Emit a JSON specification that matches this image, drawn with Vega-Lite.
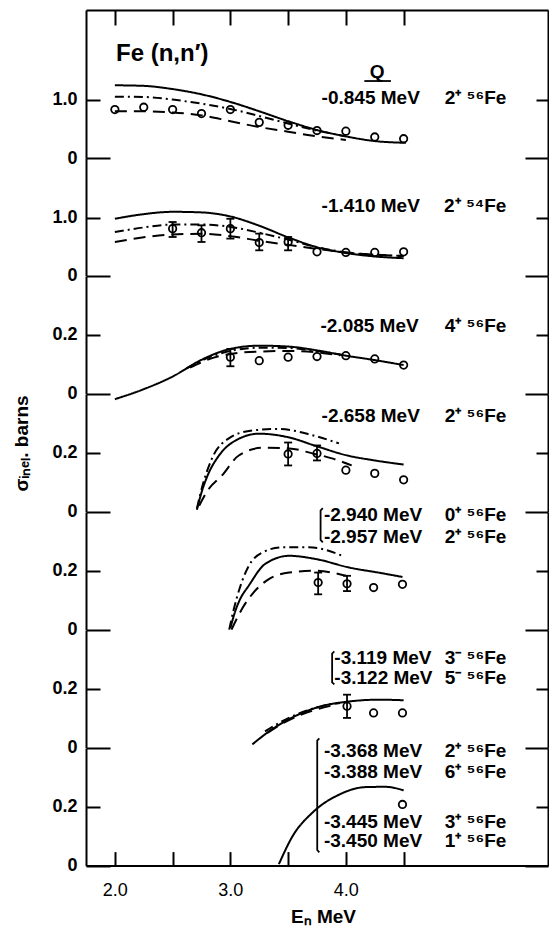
{
  "$schema": "https://vega.github.io/schema/vega-lite/v6.json",
  "padding": {"left": 12, "top": 9, "right": 0, "bottom": 0},
  "bounds": "flush",
  "spacing": 0,
  "config": {
    "view": {"stroke": null},
    "font": "Liberation Sans",
    "axis": {"domainColor": "#000", "domainWidth": 2, "tickColor": "#000", "tickWidth": 2, "labelColor": "#000", "labelFontSize": 18, "labelFontWeight": "bold", "grid": false, "titleColor": "#000", "titleFontSize": 18, "titleFontWeight": "bold"},
    "text": {"color": "#000", "font": "Liberation Sans", "fontSize": 19, "fontWeight": "bold"}
  },
  "datasets": {
    "curves": [
      {"panel":1,"model":"solid","E":2.0,"sigma":1.245},{"panel":1,"model":"solid","E":2.25,"sigma":1.235},{"panel":1,"model":"solid","E":2.5,"sigma":1.18},{"panel":1,"model":"solid","E":2.75,"sigma":1.09},{"panel":1,"model":"solid","E":3.0,"sigma":0.96},{"panel":1,"model":"solid","E":3.25,"sigma":0.8},{"panel":1,"model":"solid","E":3.5,"sigma":0.63},{"panel":1,"model":"solid","E":3.75,"sigma":0.48},{"panel":1,"model":"solid","E":4.0,"sigma":0.37},{"panel":1,"model":"solid","E":4.25,"sigma":0.29},{"panel":1,"model":"solid","E":4.52,"sigma":0.26},
      {"panel":1,"model":"dashdot","E":2.0,"sigma":1.05},{"panel":1,"model":"dashdot","E":2.25,"sigma":1.045},{"panel":1,"model":"dashdot","E":2.5,"sigma":1.0},{"panel":1,"model":"dashdot","E":2.75,"sigma":0.93},{"panel":1,"model":"dashdot","E":3.0,"sigma":0.84},{"panel":1,"model":"dashdot","E":3.25,"sigma":0.72},{"panel":1,"model":"dashdot","E":3.5,"sigma":0.59},{"panel":1,"model":"dashdot","E":3.75,"sigma":0.47},{"panel":1,"model":"dashdot","E":4.0,"sigma":0.37},
      {"panel":1,"model":"dashed","E":2.0,"sigma":0.8},{"panel":1,"model":"dashed","E":2.25,"sigma":0.8},{"panel":1,"model":"dashed","E":2.5,"sigma":0.78},{"panel":1,"model":"dashed","E":2.75,"sigma":0.73},{"panel":1,"model":"dashed","E":3.0,"sigma":0.63},{"panel":1,"model":"dashed","E":3.25,"sigma":0.53},{"panel":1,"model":"dashed","E":3.5,"sigma":0.45},{"panel":1,"model":"dashed","E":3.75,"sigma":0.37},{"panel":1,"model":"dashed","E":4.0,"sigma":0.31},
      {"panel":2,"model":"solid","E":2.0,"sigma":0.98},{"panel":2,"model":"solid","E":2.25,"sigma":1.06},{"panel":2,"model":"solid","E":2.5,"sigma":1.1},{"panel":2,"model":"solid","E":2.75,"sigma":1.09},{"panel":2,"model":"solid","E":3.0,"sigma":1.02},{"panel":2,"model":"solid","E":3.25,"sigma":0.86},{"panel":2,"model":"solid","E":3.5,"sigma":0.66},{"panel":2,"model":"solid","E":3.75,"sigma":0.49},{"panel":2,"model":"solid","E":4.0,"sigma":0.39},{"panel":2,"model":"solid","E":4.25,"sigma":0.33},{"panel":2,"model":"solid","E":4.5,"sigma":0.3},
      {"panel":2,"model":"dashdot","E":2.0,"sigma":0.75},{"panel":2,"model":"dashdot","E":2.25,"sigma":0.83},{"panel":2,"model":"dashdot","E":2.5,"sigma":0.88},{"panel":2,"model":"dashdot","E":2.75,"sigma":0.88},{"panel":2,"model":"dashdot","E":3.0,"sigma":0.84},{"panel":2,"model":"dashdot","E":3.25,"sigma":0.74},{"panel":2,"model":"dashdot","E":3.5,"sigma":0.62},{"panel":2,"model":"dashdot","E":3.75,"sigma":0.49},{"panel":2,"model":"dashdot","E":4.0,"sigma":0.4},{"panel":2,"model":"dashdot","E":4.25,"sigma":0.36},{"panel":2,"model":"dashdot","E":4.5,"sigma":0.34},
      {"panel":2,"model":"dashed","E":2.0,"sigma":0.58},{"panel":2,"model":"dashed","E":2.25,"sigma":0.66},{"panel":2,"model":"dashed","E":2.5,"sigma":0.71},{"panel":2,"model":"dashed","E":2.75,"sigma":0.72},{"panel":2,"model":"dashed","E":3.0,"sigma":0.68},{"panel":2,"model":"dashed","E":3.25,"sigma":0.6},{"panel":2,"model":"dashed","E":3.5,"sigma":0.53},{"panel":2,"model":"dashed","E":3.75,"sigma":0.46},{"panel":2,"model":"dashed","E":4.0,"sigma":0.4},{"panel":2,"model":"dashed","E":4.25,"sigma":0.36},{"panel":2,"model":"dashed","E":4.5,"sigma":0.34},
      {"panel":3,"model":"solid","E":2.0,"sigma":-0.019},{"panel":3,"model":"solid","E":2.25,"sigma":0.015},{"panel":3,"model":"solid","E":2.5,"sigma":0.058},{"panel":3,"model":"solid","E":2.75,"sigma":0.115},{"panel":3,"model":"solid","E":3.0,"sigma":0.152},{"panel":3,"model":"solid","E":3.25,"sigma":0.163},{"panel":3,"model":"solid","E":3.5,"sigma":0.16},{"panel":3,"model":"solid","E":3.75,"sigma":0.147},{"panel":3,"model":"solid","E":4.0,"sigma":0.129},{"panel":3,"model":"solid","E":4.25,"sigma":0.114},{"panel":3,"model":"solid","E":4.5,"sigma":0.097},
      {"panel":3,"model":"dashdot","E":2.62,"sigma":0.085},{"panel":3,"model":"dashdot","E":2.75,"sigma":0.112},{"panel":3,"model":"dashdot","E":3.0,"sigma":0.145},{"panel":3,"model":"dashdot","E":3.25,"sigma":0.156},{"panel":3,"model":"dashdot","E":3.5,"sigma":0.155},{"panel":3,"model":"dashdot","E":3.75,"sigma":0.145},{"panel":3,"model":"dashdot","E":4.0,"sigma":0.13},
      {"panel":3,"model":"dashed","E":2.65,"sigma":0.088},{"panel":3,"model":"dashed","E":2.8,"sigma":0.115},{"panel":3,"model":"dashed","E":3.0,"sigma":0.135},{"panel":3,"model":"dashed","E":3.25,"sigma":0.143},{"panel":3,"model":"dashed","E":3.5,"sigma":0.145},{"panel":3,"model":"dashed","E":3.75,"sigma":0.14},{"panel":3,"model":"dashed","E":3.95,"sigma":0.13},
      {"panel":4,"model":"solid","E":2.71,"sigma":0.006},{"panel":4,"model":"solid","E":2.75,"sigma":0.065},{"panel":4,"model":"solid","E":2.8,"sigma":0.12},{"panel":4,"model":"solid","E":2.9,"sigma":0.19},{"panel":4,"model":"solid","E":3.05,"sigma":0.243},{"panel":4,"model":"solid","E":3.25,"sigma":0.265},{"panel":4,"model":"solid","E":3.5,"sigma":0.253},{"panel":4,"model":"solid","E":3.75,"sigma":0.222},{"panel":4,"model":"solid","E":4.0,"sigma":0.192},{"panel":4,"model":"solid","E":4.25,"sigma":0.174},{"panel":4,"model":"solid","E":4.5,"sigma":0.16},
      {"panel":4,"model":"dashdot","E":2.71,"sigma":0.01},{"panel":4,"model":"dashdot","E":2.76,"sigma":0.09},{"panel":4,"model":"dashdot","E":2.84,"sigma":0.18},{"panel":4,"model":"dashdot","E":2.99,"sigma":0.25},{"panel":4,"model":"dashdot","E":3.19,"sigma":0.276},{"panel":4,"model":"dashdot","E":3.42,"sigma":0.281},{"panel":4,"model":"dashdot","E":3.71,"sigma":0.26},{"panel":4,"model":"dashdot","E":3.94,"sigma":0.232},
      {"panel":4,"model":"dashed","E":2.73,"sigma":0.02},{"panel":4,"model":"dashed","E":2.8,"sigma":0.07},{"panel":4,"model":"dashed","E":2.93,"sigma":0.124},{"panel":4,"model":"dashed","E":3.07,"sigma":0.19},{"panel":4,"model":"dashed","E":3.28,"sigma":0.217},{"panel":4,"model":"dashed","E":3.51,"sigma":0.215},{"panel":4,"model":"dashed","E":3.71,"sigma":0.198},{"panel":4,"model":"dashed","E":3.88,"sigma":0.181},{"panel":4,"model":"dashed","E":4.05,"sigma":0.157},
      {"panel":5,"model":"solid","E":3.0,"sigma":0.005},{"panel":5,"model":"solid","E":3.04,"sigma":0.06},{"panel":5,"model":"solid","E":3.08,"sigma":0.1},{"panel":5,"model":"solid","E":3.16,"sigma":0.15},{"panel":5,"model":"solid","E":3.3,"sigma":0.223},{"panel":5,"model":"solid","E":3.51,"sigma":0.251},{"panel":5,"model":"solid","E":3.74,"sigma":0.24},{"panel":5,"model":"solid","E":4.03,"sigma":0.211},{"panel":5,"model":"solid","E":4.31,"sigma":0.192},{"panel":5,"model":"solid","E":4.49,"sigma":0.179},
      {"panel":5,"model":"dashdot","E":2.99,"sigma":0.0},{"panel":5,"model":"dashdot","E":3.03,"sigma":0.07},{"panel":5,"model":"dashdot","E":3.08,"sigma":0.14},{"panel":5,"model":"dashdot","E":3.16,"sigma":0.217},{"panel":5,"model":"dashdot","E":3.28,"sigma":0.263},{"panel":5,"model":"dashdot","E":3.45,"sigma":0.28},{"panel":5,"model":"dashdot","E":3.68,"sigma":0.28},{"panel":5,"model":"dashdot","E":3.97,"sigma":0.251},
      {"panel":5,"model":"dashed","E":3.01,"sigma":0.0},{"panel":5,"model":"dashed","E":3.1,"sigma":0.07},{"panel":5,"model":"dashed","E":3.2,"sigma":0.126},{"panel":5,"model":"dashed","E":3.33,"sigma":0.171},{"panel":5,"model":"dashed","E":3.51,"sigma":0.194},{"panel":5,"model":"dashed","E":3.74,"sigma":0.2},{"panel":5,"model":"dashed","E":4.0,"sigma":0.183},
      {"panel":6,"model":"solid","E":3.19,"sigma":0.011},{"panel":6,"model":"solid","E":3.36,"sigma":0.062},{"panel":6,"model":"solid","E":3.56,"sigma":0.107},{"panel":6,"model":"solid","E":3.79,"sigma":0.141},{"panel":6,"model":"solid","E":4.03,"sigma":0.157},{"panel":6,"model":"solid","E":4.29,"sigma":0.163},{"panel":6,"model":"solid","E":4.5,"sigma":0.161},
      {"panel":6,"model":"dashdot","E":3.3,"sigma":0.055},{"panel":6,"model":"dashdot","E":3.45,"sigma":0.09},{"panel":6,"model":"dashdot","E":3.6,"sigma":0.117},{"panel":6,"model":"dashdot","E":3.75,"sigma":0.137},{"panel":6,"model":"dashdot","E":3.95,"sigma":0.152},
      {"panel":6,"model":"dashed","E":3.32,"sigma":0.05},{"panel":6,"model":"dashed","E":3.45,"sigma":0.082},{"panel":6,"model":"dashed","E":3.6,"sigma":0.11},{"panel":6,"model":"dashed","E":3.75,"sigma":0.13},{"panel":6,"model":"dashed","E":3.9,"sigma":0.145},
      {"panel":7,"model":"solid","E":3.42,"sigma":0.005},{"panel":7,"model":"solid","E":3.54,"sigma":0.101},{"panel":7,"model":"solid","E":3.71,"sigma":0.18},{"panel":7,"model":"solid","E":3.94,"sigma":0.241},{"panel":7,"model":"solid","E":4.17,"sigma":0.267},{"panel":7,"model":"solid","E":4.34,"sigma":0.268},{"panel":7,"model":"solid","E":4.5,"sigma":0.256}
    ],
    "points": [
      {"panel":1,"E":2.0,"sigma":0.83},{"panel":1,"E":2.25,"sigma":0.87},{"panel":1,"E":2.5,"sigma":0.83},{"panel":1,"E":2.75,"sigma":0.76},{"panel":1,"E":3.0,"sigma":0.83},{"panel":1,"E":3.25,"sigma":0.61},{"panel":1,"E":3.5,"sigma":0.56},{"panel":1,"E":3.75,"sigma":0.47},{"panel":1,"E":4.0,"sigma":0.46},{"panel":1,"E":4.25,"sigma":0.36},{"panel":1,"E":4.5,"sigma":0.33},
      {"panel":2,"E":2.5,"sigma":0.81,"lo":0.666,"hi":0.924},{"panel":2,"E":2.75,"sigma":0.74,"lo":0.58,"hi":0.867},{"panel":2,"E":3.0,"sigma":0.81,"lo":0.638,"hi":0.98},{"panel":2,"E":3.25,"sigma":0.57,"lo":0.436,"hi":0.724},{"panel":2,"E":3.5,"sigma":0.58,"lo":0.436,"hi":0.666},{"panel":2,"E":3.75,"sigma":0.41},{"panel":2,"E":4.0,"sigma":0.4},{"panel":2,"E":4.25,"sigma":0.4},{"panel":2,"E":4.5,"sigma":0.41},
      {"panel":3,"E":3.0,"sigma":0.124,"lo":0.093,"hi":0.152},{"panel":3,"E":3.25,"sigma":0.112},{"panel":3,"E":3.5,"sigma":0.124},{"panel":3,"E":3.75,"sigma":0.126},{"panel":3,"E":4.0,"sigma":0.129},{"panel":3,"E":4.25,"sigma":0.118},{"panel":3,"E":4.5,"sigma":0.097},
      {"panel":4,"E":3.5,"sigma":0.196,"lo":0.157,"hi":0.235},{"panel":4,"E":3.75,"sigma":0.198,"lo":0.174,"hi":0.225},{"panel":4,"E":4.0,"sigma":0.141},{"panel":4,"E":4.25,"sigma":0.13},{"panel":4,"E":4.5,"sigma":0.108},
      {"panel":5,"E":3.76,"sigma":0.16,"lo":0.12,"hi":0.194},{"panel":5,"E":4.01,"sigma":0.156,"lo":0.131,"hi":0.183},{"panel":5,"E":4.24,"sigma":0.143},{"panel":5,"E":4.49,"sigma":0.154},
      {"panel":6,"E":4.01,"sigma":0.141,"lo":0.101,"hi":0.18},{"panel":6,"E":4.24,"sigma":0.118},{"panel":6,"E":4.49,"sigma":0.118},
      {"panel":7,"E":4.49,"sigma":0.208}
    ],
    "labels": [
      {"panel":1,"sigma":1.022,"Eq":3.79,"q":"-0.845 MeV","Es":5.39,"state":"2⁺ ⁵⁶Fe"},
      {"panel":2,"sigma":1.198,"Eq":3.79,"q":"-1.410  MeV","Es":5.39,"state":"2⁺ ⁵⁴Fe"},
      {"panel":3,"sigma":0.231,"Eq":3.78,"q":"-2.085 MeV","Es":5.39,"state":"4⁺ ⁵⁶Fe"},
      {"panel":4,"sigma":0.326,"Eq":3.79,"q":"-2.658 MeV","Es":5.39,"state":"2⁺ ⁵⁶Fe"},
      {"panel":5,"sigma":0.389,"Eq":3.81,"q":"-2.940 MeV","Es":5.39,"state":"0⁺ ⁵⁶Fe"},
      {"panel":5,"sigma":0.314,"Eq":3.81,"q":"-2.957 MeV","Es":5.39,"state":"2⁺ ⁵⁶Fe"},
      {"panel":6,"sigma":0.306,"Eq":3.9,"q":"-3.119 MeV","Es":5.39,"state":"3⁻ ⁵⁶Fe"},
      {"panel":6,"sigma":0.236,"Eq":3.9,"q":"-3.122 MeV","Es":5.39,"state":"5⁻ ⁵⁶Fe"},
      {"panel":7,"sigma":0.391,"Eq":3.81,"q":"-3.368 MeV","Es":5.39,"state":"2⁺ ⁵⁶Fe"},
      {"panel":7,"sigma":0.318,"Eq":3.81,"q":"-3.388 MeV","Es":5.39,"state":"6⁺ ⁵⁶Fe"},
      {"panel":7,"sigma":0.149,"Eq":3.81,"q":"-3.445 MeV","Es":5.39,"state":"3⁺ ⁵⁶Fe"},
      {"panel":7,"sigma":0.082,"Eq":3.81,"q":"-3.450 MeV","Es":5.39,"state":"1⁺ ⁵⁶Fe"}
    ],
    "notes": [
      {"panel":1,"E":2.01,"sigma":1.776,"text":"Fe (n,n′)"},
      {"panel":1,"E":4.27,"sigma":1.476,"text":"Q"}
    ],
    "strokes": [
      {"panel":1,"id":"q","k":1,"E":4.16,"sigma":1.318},{"panel":1,"id":"q","k":2,"E":4.39,"sigma":1.318},
      {"panel":5,"id":"b5","k":1,"E":3.8,"sigma":0.413},{"panel":5,"id":"b5","k":2,"E":3.781,"sigma":0.405},{"panel":5,"id":"b5","k":3,"E":3.781,"sigma":0.305},{"panel":5,"id":"b5","k":4,"E":3.8,"sigma":0.297},
      {"panel":6,"id":"b6","k":1,"E":3.9,"sigma":0.327},{"panel":6,"id":"b6","k":2,"E":3.881,"sigma":0.32},{"panel":6,"id":"b6","k":3,"E":3.881,"sigma":0.222},{"panel":6,"id":"b6","k":4,"E":3.9,"sigma":0.215},
      {"panel":7,"id":"b7","k":1,"E":3.77,"sigma":0.433},{"panel":7,"id":"b7","k":2,"E":3.752,"sigma":0.425},{"panel":7,"id":"b7","k":3,"E":3.752,"sigma":0.053},{"panel":7,"id":"b7","k":4,"E":3.77,"sigma":0.045}
    ]
  },
  "vconcat": [
    {
      "width": 462, "height": 148,
      "resolve": {"axis": {"x": "independent", "y": "independent"}},
      "layer": [
        {"data": {"name": "curves"}, "transform": [{"filter": "datum.panel == 1"}],
         "mark": {"type": "line", "interpolate": "monotone", "strokeWidth": 2, "color": "#000"},
         "encoding": {
           "x": {"field": "E", "type": "quantitative", "scale": {"domain": [1.75, 5.75], "nice": false, "zero": false}, "axis": {"orient": "top", "values": [2, 2.5, 3, 3.5, 4, 4.5], "labels": false, "ticks": true, "tickSize": {"condition": {"test": "datum.value > 0", "value": -15}, "value": -15}, "title": null}},
           "y": {"field": "sigma", "type": "quantitative", "scale": {"domain": [0, 2.534], "nice": false, "zero": false}, "axis": {"orient": "left", "values": [0, 1], "labelExpr": "datum.value == 0 ? '0' : format(datum.value, '.1f')", "tickSize": {"condition": {"test": "datum.value == 0", "value": -24}, "value": -14}, "labelPadding": {"condition": {"test": "datum.value == 0", "value": 33}, "value": 23}, "title": null}},
           "strokeDash": {"field": "model", "type": "nominal", "scale": {"domain": ["solid", "dashdot", "dashed"], "range": [[1, 0], [9, 4, 2, 4], [12, 7]]}, "legend": null}
         }},
        {"data": {"name": "points"}, "transform": [{"filter": "datum.panel == 1"}],
         "mark": {"type": "point", "shape": "circle", "filled": false, "size": 55, "strokeWidth": 1.8, "color": "#000", "opacity": 1},
         "encoding": {
           "x": {"field": "E", "type": "quantitative", "scale": {"domain": [1.75, 5.75], "nice": false, "zero": false}, "axis": null},
           "y": {"field": "sigma", "type": "quantitative", "scale": {"domain": [0, 2.534], "nice": false, "zero": false}, "axis": {"orient": "right", "values": [0, 1], "labels": false, "tickSize": {"condition": {"test": "datum.value == 0", "value": -23}, "value": -12}, "title": null}}
         }},
        {"data": {"name": "labels"}, "transform": [{"filter": "datum.panel == 1"}],
         "mark": {"type": "text", "align": "left", "baseline": "middle"},
         "encoding": {
           "x": {"field": "Eq", "type": "quantitative", "scale": {"domain": [1.75, 5.75], "nice": false, "zero": false}, "axis": null},
           "y": {"field": "sigma", "type": "quantitative", "scale": {"domain": [0, 2.534], "nice": false, "zero": false}, "axis": null},
           "text": {"field": "q"}
         }},
        {"data": {"name": "labels"}, "transform": [{"filter": "datum.panel == 1"}],
         "mark": {"type": "text", "align": "right", "baseline": "middle"},
         "encoding": {
           "x": {"field": "Es", "type": "quantitative", "scale": {"domain": [1.75, 5.75], "nice": false, "zero": false}, "axis": null},
           "y": {"field": "sigma", "type": "quantitative", "scale": {"domain": [0, 2.534], "nice": false, "zero": false}, "axis": null},
           "text": {"field": "state"}
         }},
        {"data": {"name": "notes"}, "transform": [{"filter": "datum.text == 'Fe (n,n′)'"}],
         "mark": {"type": "text", "align": "left", "baseline": "middle", "fontSize": 24},
         "encoding": {
           "x": {"field": "E", "type": "quantitative", "scale": {"domain": [1.75, 5.75], "nice": false, "zero": false}, "axis": null},
           "y": {"field": "sigma", "type": "quantitative", "scale": {"domain": [0, 2.534], "nice": false, "zero": false}, "axis": null},
           "text": {"field": "text"}
         }},
        {"data": {"name": "notes"}, "transform": [{"filter": "datum.text == 'Q'"}],
         "mark": {"type": "text", "align": "center", "baseline": "middle", "fontSize": 19},
         "encoding": {
           "x": {"field": "E", "type": "quantitative", "scale": {"domain": [1.75, 5.75], "nice": false, "zero": false}, "axis": null},
           "y": {"field": "sigma", "type": "quantitative", "scale": {"domain": [0, 2.534], "nice": false, "zero": false}, "axis": null},
           "text": {"field": "text"}
         }},
        {"data": {"name": "strokes"}, "transform": [{"filter": "datum.panel == 1"}],
         "mark": {"type": "line", "strokeWidth": 1.8, "color": "#000"},
         "encoding": {
           "x": {"field": "E", "type": "quantitative", "scale": {"domain": [1.75, 5.75], "nice": false, "zero": false}, "axis": null},
           "y": {"field": "sigma", "type": "quantitative", "scale": {"domain": [0, 2.534], "nice": false, "zero": false}, "axis": null},
           "order": {"field": "k"},
           "detail": {"field": "id"}
         }}
      ]
    },
    {
      "width": 462, "height": 117.6,
      "resolve": {"axis": {"x": "independent", "y": "independent"}},
      "layer": [
        {"data": {"name": "curves"}, "transform": [{"filter": "datum.panel == 2"}],
         "mark": {"type": "line", "interpolate": "monotone", "strokeWidth": 2, "color": "#000"},
         "encoding": {
           "x": {"field": "E", "type": "quantitative", "scale": {"domain": [1.75, 5.75], "nice": false, "zero": false}, "axis": null},
           "y": {"field": "sigma", "type": "quantitative", "scale": {"domain": [0, 2.028], "nice": false, "zero": false}, "axis": {"orient": "left", "values": [0, 1], "labelExpr": "datum.value == 0 ? '0' : format(datum.value, '.1f')", "tickSize": {"condition": {"test": "datum.value == 0", "value": -24}, "value": -14}, "labelPadding": {"condition": {"test": "datum.value == 0", "value": 33}, "value": 23}, "title": null}},
           "strokeDash": {"field": "model", "type": "nominal", "scale": {"domain": ["solid", "dashdot", "dashed"], "range": [[1, 0], [9, 4, 2, 4], [12, 7]]}, "legend": null}
         }},
        {"data": {"name": "points"}, "transform": [{"filter": "datum.panel == 2"}],
         "mark": {"type": "point", "shape": "circle", "filled": false, "size": 55, "strokeWidth": 1.8, "color": "#000", "opacity": 1},
         "encoding": {
           "x": {"field": "E", "type": "quantitative", "scale": {"domain": [1.75, 5.75], "nice": false, "zero": false}, "axis": null},
           "y": {"field": "sigma", "type": "quantitative", "scale": {"domain": [0, 2.028], "nice": false, "zero": false}, "axis": {"orient": "right", "values": [0, 1], "labels": false, "tickSize": {"condition": {"test": "datum.value == 0", "value": -23}, "value": -12}, "title": null}}
         }},
        {"data": {"name": "points"}, "transform": [{"filter": "datum.panel == 2 && isValid(datum.lo)"}],
         "mark": {"type": "rule", "strokeWidth": 1.8, "color": "#000"},
         "encoding": {
           "x": {"field": "E", "type": "quantitative", "scale": {"domain": [1.75, 5.75], "nice": false, "zero": false}, "axis": null},
           "y": {"field": "lo", "type": "quantitative", "scale": {"domain": [0, 2.028], "nice": false, "zero": false}, "axis": null},
           "y2": {"field": "hi"}
         }},
        {"data": {"name": "points"}, "transform": [{"filter": "datum.panel == 2 && isValid(datum.lo)"}, {"fold": ["lo", "hi"], "as": ["end", "bar"]}],
         "mark": {"type": "tick", "orient": "horizontal", "size": 8, "thickness": 1.8, "color": "#000", "opacity": 1},
         "encoding": {
           "x": {"field": "E", "type": "quantitative", "scale": {"domain": [1.75, 5.75], "nice": false, "zero": false}, "axis": null},
           "y": {"field": "bar", "type": "quantitative", "scale": {"domain": [0, 2.028], "nice": false, "zero": false}, "axis": null}
         }},
        {"data": {"name": "labels"}, "transform": [{"filter": "datum.panel == 2"}],
         "mark": {"type": "text", "align": "left", "baseline": "middle"},
         "encoding": {
           "x": {"field": "Eq", "type": "quantitative", "scale": {"domain": [1.75, 5.75], "nice": false, "zero": false}, "axis": null},
           "y": {"field": "sigma", "type": "quantitative", "scale": {"domain": [0, 2.028], "nice": false, "zero": false}, "axis": null},
           "text": {"field": "q"}
         }},
        {"data": {"name": "labels"}, "transform": [{"filter": "datum.panel == 2"}],
         "mark": {"type": "text", "align": "right", "baseline": "middle"},
         "encoding": {
           "x": {"field": "Es", "type": "quantitative", "scale": {"domain": [1.75, 5.75], "nice": false, "zero": false}, "axis": null},
           "y": {"field": "sigma", "type": "quantitative", "scale": {"domain": [0, 2.028], "nice": false, "zero": false}, "axis": null},
           "text": {"field": "state"}
         }}
      ]
    },
    {
      "width": 462, "height": 117.6,
      "resolve": {"axis": {"x": "independent", "y": "independent"}},
      "layer": [
        {"data": {"name": "curves"}, "transform": [{"filter": "datum.panel == 3"}],
         "mark": {"type": "line", "interpolate": "monotone", "strokeWidth": 2, "color": "#000"},
         "encoding": {
           "x": {"field": "E", "type": "quantitative", "scale": {"domain": [1.75, 5.75], "nice": false, "zero": false}, "axis": null},
           "y": {"field": "sigma", "type": "quantitative", "scale": {"domain": [0, 0.4], "nice": false, "zero": false}, "axis": {"orient": "left", "values": [0, 0.2], "labelExpr": "datum.value == 0 ? '0' : format(datum.value, '.1f')", "tickSize": {"condition": {"test": "datum.value == 0", "value": -24}, "value": -14}, "labelPadding": {"condition": {"test": "datum.value == 0", "value": 33}, "value": 23}, "title": null}},
           "strokeDash": {"field": "model", "type": "nominal", "scale": {"domain": ["solid", "dashdot", "dashed"], "range": [[1, 0], [9, 4, 2, 4], [12, 7]]}, "legend": null}
         }},
        {"data": {"name": "points"}, "transform": [{"filter": "datum.panel == 3"}],
         "mark": {"type": "point", "shape": "circle", "filled": false, "size": 55, "strokeWidth": 1.8, "color": "#000", "opacity": 1},
         "encoding": {
           "x": {"field": "E", "type": "quantitative", "scale": {"domain": [1.75, 5.75], "nice": false, "zero": false}, "axis": null},
           "y": {"field": "sigma", "type": "quantitative", "scale": {"domain": [0, 0.4], "nice": false, "zero": false}, "axis": {"orient": "right", "values": [0, 0.2], "labels": false, "tickSize": {"condition": {"test": "datum.value == 0", "value": -23}, "value": -12}, "title": null}}
         }},
        {"data": {"name": "points"}, "transform": [{"filter": "datum.panel == 3 && isValid(datum.lo)"}],
         "mark": {"type": "rule", "strokeWidth": 1.8, "color": "#000"},
         "encoding": {
           "x": {"field": "E", "type": "quantitative", "scale": {"domain": [1.75, 5.75], "nice": false, "zero": false}, "axis": null},
           "y": {"field": "lo", "type": "quantitative", "scale": {"domain": [0, 0.4], "nice": false, "zero": false}, "axis": null},
           "y2": {"field": "hi"}
         }},
        {"data": {"name": "points"}, "transform": [{"filter": "datum.panel == 3 && isValid(datum.lo)"}, {"fold": ["lo", "hi"], "as": ["end", "bar"]}],
         "mark": {"type": "tick", "orient": "horizontal", "size": 8, "thickness": 1.8, "color": "#000", "opacity": 1},
         "encoding": {
           "x": {"field": "E", "type": "quantitative", "scale": {"domain": [1.75, 5.75], "nice": false, "zero": false}, "axis": null},
           "y": {"field": "bar", "type": "quantitative", "scale": {"domain": [0, 0.4], "nice": false, "zero": false}, "axis": null}
         }},
        {"data": {"name": "labels"}, "transform": [{"filter": "datum.panel == 3"}],
         "mark": {"type": "text", "align": "left", "baseline": "middle"},
         "encoding": {
           "x": {"field": "Eq", "type": "quantitative", "scale": {"domain": [1.75, 5.75], "nice": false, "zero": false}, "axis": null},
           "y": {"field": "sigma", "type": "quantitative", "scale": {"domain": [0, 0.4], "nice": false, "zero": false}, "axis": null},
           "text": {"field": "q"}
         }},
        {"data": {"name": "labels"}, "transform": [{"filter": "datum.panel == 3"}],
         "mark": {"type": "text", "align": "right", "baseline": "middle"},
         "encoding": {
           "x": {"field": "Es", "type": "quantitative", "scale": {"domain": [1.75, 5.75], "nice": false, "zero": false}, "axis": null},
           "y": {"field": "sigma", "type": "quantitative", "scale": {"domain": [0, 0.4], "nice": false, "zero": false}, "axis": null},
           "text": {"field": "state"}
         }}
      ]
    },
    {
      "width": 462, "height": 117.6,
      "resolve": {"axis": {"x": "independent", "y": "independent"}},
      "layer": [
        {"data": {"name": "curves"}, "transform": [{"filter": "datum.panel == 4"}],
         "mark": {"type": "line", "interpolate": "monotone", "strokeWidth": 2, "color": "#000"},
         "encoding": {
           "x": {"field": "E", "type": "quantitative", "scale": {"domain": [1.75, 5.75], "nice": false, "zero": false}, "axis": null},
           "y": {"field": "sigma", "type": "quantitative", "scale": {"domain": [0, 0.4], "nice": false, "zero": false}, "axis": {"orient": "left", "values": [0, 0.2], "labelExpr": "datum.value == 0 ? '0' : format(datum.value, '.1f')", "tickSize": {"condition": {"test": "datum.value == 0", "value": -24}, "value": -14}, "labelPadding": {"condition": {"test": "datum.value == 0", "value": 33}, "value": 23}, "title": "σᵢₙₑₗ. barns", "titleX": -65, "titleY": 49, "titleAngle": -90, "titleAlign": "center", "titleBaseline": "middle", "titleFontSize": 19}},
           "strokeDash": {"field": "model", "type": "nominal", "scale": {"domain": ["solid", "dashdot", "dashed"], "range": [[1, 0], [9, 4, 2, 4], [12, 7]]}, "legend": null}
         }},
        {"data": {"name": "points"}, "transform": [{"filter": "datum.panel == 4"}],
         "mark": {"type": "point", "shape": "circle", "filled": false, "size": 55, "strokeWidth": 1.8, "color": "#000", "opacity": 1},
         "encoding": {
           "x": {"field": "E", "type": "quantitative", "scale": {"domain": [1.75, 5.75], "nice": false, "zero": false}, "axis": null},
           "y": {"field": "sigma", "type": "quantitative", "scale": {"domain": [0, 0.4], "nice": false, "zero": false}, "axis": {"orient": "right", "values": [0, 0.2], "labels": false, "tickSize": {"condition": {"test": "datum.value == 0", "value": -23}, "value": -12}, "title": null}}
         }},
        {"data": {"name": "points"}, "transform": [{"filter": "datum.panel == 4 && isValid(datum.lo)"}],
         "mark": {"type": "rule", "strokeWidth": 1.8, "color": "#000"},
         "encoding": {
           "x": {"field": "E", "type": "quantitative", "scale": {"domain": [1.75, 5.75], "nice": false, "zero": false}, "axis": null},
           "y": {"field": "lo", "type": "quantitative", "scale": {"domain": [0, 0.4], "nice": false, "zero": false}, "axis": null},
           "y2": {"field": "hi"}
         }},
        {"data": {"name": "points"}, "transform": [{"filter": "datum.panel == 4 && isValid(datum.lo)"}, {"fold": ["lo", "hi"], "as": ["end", "bar"]}],
         "mark": {"type": "tick", "orient": "horizontal", "size": 8, "thickness": 1.8, "color": "#000", "opacity": 1},
         "encoding": {
           "x": {"field": "E", "type": "quantitative", "scale": {"domain": [1.75, 5.75], "nice": false, "zero": false}, "axis": null},
           "y": {"field": "bar", "type": "quantitative", "scale": {"domain": [0, 0.4], "nice": false, "zero": false}, "axis": null}
         }},
        {"data": {"name": "labels"}, "transform": [{"filter": "datum.panel == 4"}],
         "mark": {"type": "text", "align": "left", "baseline": "middle"},
         "encoding": {
           "x": {"field": "Eq", "type": "quantitative", "scale": {"domain": [1.75, 5.75], "nice": false, "zero": false}, "axis": null},
           "y": {"field": "sigma", "type": "quantitative", "scale": {"domain": [0, 0.4], "nice": false, "zero": false}, "axis": null},
           "text": {"field": "q"}
         }},
        {"data": {"name": "labels"}, "transform": [{"filter": "datum.panel == 4"}],
         "mark": {"type": "text", "align": "right", "baseline": "middle"},
         "encoding": {
           "x": {"field": "Es", "type": "quantitative", "scale": {"domain": [1.75, 5.75], "nice": false, "zero": false}, "axis": null},
           "y": {"field": "sigma", "type": "quantitative", "scale": {"domain": [0, 0.4], "nice": false, "zero": false}, "axis": null},
           "text": {"field": "state"}
         }}
      ]
    },
    {
      "width": 462, "height": 117.6,
      "resolve": {"axis": {"x": "independent", "y": "independent"}},
      "layer": [
        {"data": {"name": "curves"}, "transform": [{"filter": "datum.panel == 5"}],
         "mark": {"type": "line", "interpolate": "monotone", "strokeWidth": 2, "color": "#000"},
         "encoding": {
           "x": {"field": "E", "type": "quantitative", "scale": {"domain": [1.75, 5.75], "nice": false, "zero": false}, "axis": null},
           "y": {"field": "sigma", "type": "quantitative", "scale": {"domain": [0, 0.4], "nice": false, "zero": false}, "axis": {"orient": "left", "values": [0, 0.2], "labelExpr": "datum.value == 0 ? '0' : format(datum.value, '.1f')", "tickSize": {"condition": {"test": "datum.value == 0", "value": -24}, "value": -14}, "labelPadding": {"condition": {"test": "datum.value == 0", "value": 33}, "value": 23}, "title": null}},
           "strokeDash": {"field": "model", "type": "nominal", "scale": {"domain": ["solid", "dashdot", "dashed"], "range": [[1, 0], [9, 4, 2, 4], [12, 7]]}, "legend": null}
         }},
        {"data": {"name": "points"}, "transform": [{"filter": "datum.panel == 5"}],
         "mark": {"type": "point", "shape": "circle", "filled": false, "size": 55, "strokeWidth": 1.8, "color": "#000", "opacity": 1},
         "encoding": {
           "x": {"field": "E", "type": "quantitative", "scale": {"domain": [1.75, 5.75], "nice": false, "zero": false}, "axis": null},
           "y": {"field": "sigma", "type": "quantitative", "scale": {"domain": [0, 0.4], "nice": false, "zero": false}, "axis": {"orient": "right", "values": [0, 0.2], "labels": false, "tickSize": {"condition": {"test": "datum.value == 0", "value": -23}, "value": -12}, "title": null}}
         }},
        {"data": {"name": "points"}, "transform": [{"filter": "datum.panel == 5 && isValid(datum.lo)"}],
         "mark": {"type": "rule", "strokeWidth": 1.8, "color": "#000"},
         "encoding": {
           "x": {"field": "E", "type": "quantitative", "scale": {"domain": [1.75, 5.75], "nice": false, "zero": false}, "axis": null},
           "y": {"field": "lo", "type": "quantitative", "scale": {"domain": [0, 0.4], "nice": false, "zero": false}, "axis": null},
           "y2": {"field": "hi"}
         }},
        {"data": {"name": "points"}, "transform": [{"filter": "datum.panel == 5 && isValid(datum.lo)"}, {"fold": ["lo", "hi"], "as": ["end", "bar"]}],
         "mark": {"type": "tick", "orient": "horizontal", "size": 8, "thickness": 1.8, "color": "#000", "opacity": 1},
         "encoding": {
           "x": {"field": "E", "type": "quantitative", "scale": {"domain": [1.75, 5.75], "nice": false, "zero": false}, "axis": null},
           "y": {"field": "bar", "type": "quantitative", "scale": {"domain": [0, 0.4], "nice": false, "zero": false}, "axis": null}
         }},
        {"data": {"name": "labels"}, "transform": [{"filter": "datum.panel == 5"}],
         "mark": {"type": "text", "align": "left", "baseline": "middle"},
         "encoding": {
           "x": {"field": "Eq", "type": "quantitative", "scale": {"domain": [1.75, 5.75], "nice": false, "zero": false}, "axis": null},
           "y": {"field": "sigma", "type": "quantitative", "scale": {"domain": [0, 0.4], "nice": false, "zero": false}, "axis": null},
           "text": {"field": "q"}
         }},
        {"data": {"name": "labels"}, "transform": [{"filter": "datum.panel == 5"}],
         "mark": {"type": "text", "align": "right", "baseline": "middle"},
         "encoding": {
           "x": {"field": "Es", "type": "quantitative", "scale": {"domain": [1.75, 5.75], "nice": false, "zero": false}, "axis": null},
           "y": {"field": "sigma", "type": "quantitative", "scale": {"domain": [0, 0.4], "nice": false, "zero": false}, "axis": null},
           "text": {"field": "state"}
         }},
        {"data": {"name": "strokes"}, "transform": [{"filter": "datum.panel == 5"}],
         "mark": {"type": "line", "strokeWidth": 1.8, "color": "#000"},
         "encoding": {
           "x": {"field": "E", "type": "quantitative", "scale": {"domain": [1.75, 5.75], "nice": false, "zero": false}, "axis": null},
           "y": {"field": "sigma", "type": "quantitative", "scale": {"domain": [0, 0.4], "nice": false, "zero": false}, "axis": null},
           "order": {"field": "k"},
           "detail": {"field": "id"}
         }}
      ]
    },
    {
      "width": 462, "height": 117.6,
      "resolve": {"axis": {"x": "independent", "y": "independent"}},
      "layer": [
        {"data": {"name": "curves"}, "transform": [{"filter": "datum.panel == 6"}],
         "mark": {"type": "line", "interpolate": "monotone", "strokeWidth": 2, "color": "#000"},
         "encoding": {
           "x": {"field": "E", "type": "quantitative", "scale": {"domain": [1.75, 5.75], "nice": false, "zero": false}, "axis": null},
           "y": {"field": "sigma", "type": "quantitative", "scale": {"domain": [0, 0.4], "nice": false, "zero": false}, "axis": {"orient": "left", "values": [0, 0.2], "labelExpr": "datum.value == 0 ? '0' : format(datum.value, '.1f')", "tickSize": {"condition": {"test": "datum.value == 0", "value": -24}, "value": -14}, "labelPadding": {"condition": {"test": "datum.value == 0", "value": 33}, "value": 23}, "title": null}},
           "strokeDash": {"field": "model", "type": "nominal", "scale": {"domain": ["solid", "dashdot", "dashed"], "range": [[1, 0], [9, 4, 2, 4], [12, 7]]}, "legend": null}
         }},
        {"data": {"name": "points"}, "transform": [{"filter": "datum.panel == 6"}],
         "mark": {"type": "point", "shape": "circle", "filled": false, "size": 55, "strokeWidth": 1.8, "color": "#000", "opacity": 1},
         "encoding": {
           "x": {"field": "E", "type": "quantitative", "scale": {"domain": [1.75, 5.75], "nice": false, "zero": false}, "axis": null},
           "y": {"field": "sigma", "type": "quantitative", "scale": {"domain": [0, 0.4], "nice": false, "zero": false}, "axis": {"orient": "right", "values": [0, 0.2], "labels": false, "tickSize": {"condition": {"test": "datum.value == 0", "value": -23}, "value": -12}, "title": null}}
         }},
        {"data": {"name": "points"}, "transform": [{"filter": "datum.panel == 6 && isValid(datum.lo)"}],
         "mark": {"type": "rule", "strokeWidth": 1.8, "color": "#000"},
         "encoding": {
           "x": {"field": "E", "type": "quantitative", "scale": {"domain": [1.75, 5.75], "nice": false, "zero": false}, "axis": null},
           "y": {"field": "lo", "type": "quantitative", "scale": {"domain": [0, 0.4], "nice": false, "zero": false}, "axis": null},
           "y2": {"field": "hi"}
         }},
        {"data": {"name": "points"}, "transform": [{"filter": "datum.panel == 6 && isValid(datum.lo)"}, {"fold": ["lo", "hi"], "as": ["end", "bar"]}],
         "mark": {"type": "tick", "orient": "horizontal", "size": 8, "thickness": 1.8, "color": "#000", "opacity": 1},
         "encoding": {
           "x": {"field": "E", "type": "quantitative", "scale": {"domain": [1.75, 5.75], "nice": false, "zero": false}, "axis": null},
           "y": {"field": "bar", "type": "quantitative", "scale": {"domain": [0, 0.4], "nice": false, "zero": false}, "axis": null}
         }},
        {"data": {"name": "labels"}, "transform": [{"filter": "datum.panel == 6"}],
         "mark": {"type": "text", "align": "left", "baseline": "middle"},
         "encoding": {
           "x": {"field": "Eq", "type": "quantitative", "scale": {"domain": [1.75, 5.75], "nice": false, "zero": false}, "axis": null},
           "y": {"field": "sigma", "type": "quantitative", "scale": {"domain": [0, 0.4], "nice": false, "zero": false}, "axis": null},
           "text": {"field": "q"}
         }},
        {"data": {"name": "labels"}, "transform": [{"filter": "datum.panel == 6"}],
         "mark": {"type": "text", "align": "right", "baseline": "middle"},
         "encoding": {
           "x": {"field": "Es", "type": "quantitative", "scale": {"domain": [1.75, 5.75], "nice": false, "zero": false}, "axis": null},
           "y": {"field": "sigma", "type": "quantitative", "scale": {"domain": [0, 0.4], "nice": false, "zero": false}, "axis": null},
           "text": {"field": "state"}
         }},
        {"data": {"name": "strokes"}, "transform": [{"filter": "datum.panel == 6"}],
         "mark": {"type": "line", "strokeWidth": 1.8, "color": "#000"},
         "encoding": {
           "x": {"field": "E", "type": "quantitative", "scale": {"domain": [1.75, 5.75], "nice": false, "zero": false}, "axis": null},
           "y": {"field": "sigma", "type": "quantitative", "scale": {"domain": [0, 0.4], "nice": false, "zero": false}, "axis": null},
           "order": {"field": "k"},
           "detail": {"field": "id"}
         }}
      ]
    },
    {
      "width": 462, "height": 117.6,
      "resolve": {"axis": {"x": "independent", "y": "independent"}},
      "layer": [
        {"data": {"name": "curves"}, "transform": [{"filter": "datum.panel == 7"}],
         "mark": {"type": "line", "interpolate": "monotone", "strokeWidth": 2, "color": "#000"},
         "encoding": {
           "x": {"field": "E", "type": "quantitative", "scale": {"domain": [1.75, 5.75], "nice": false, "zero": false}, "axis": {"orient": "bottom", "values": [2, 2.5, 3, 3.5, 4, 4.5], "labelExpr": "datum.value % 1 == 0 ? format(datum.value, '.1f') : ''", "labelFontWeight": "normal", "ticks": true, "tickSize": {"condition": {"test": "datum.value > 0", "value": -14}, "value": -14}, "labelPadding": {"condition": {"test": "datum.value > 0", "value": 30}, "value": 30}, "title": "Eₙ  MeV", "titleFontSize": 19, "titleX": 237, "titleY": 51, "titleBaseline": "middle", "titleAlign": "center"}},
           "y": {"field": "sigma", "type": "quantitative", "scale": {"domain": [0, 0.4], "nice": false, "zero": false}, "axis": {"orient": "left", "values": [0, 0.2], "labelExpr": "datum.value == 0 ? '0' : format(datum.value, '.1f')", "tickSize": {"condition": {"test": "datum.value == 0", "value": -24}, "value": -14}, "labelPadding": {"condition": {"test": "datum.value == 0", "value": 33}, "value": 23}, "title": null}},
           "strokeDash": {"field": "model", "type": "nominal", "scale": {"domain": ["solid", "dashdot", "dashed"], "range": [[1, 0], [9, 4, 2, 4], [12, 7]]}, "legend": null}
         }},
        {"data": {"name": "points"}, "transform": [{"filter": "datum.panel == 7"}],
         "mark": {"type": "point", "shape": "circle", "filled": false, "size": 55, "strokeWidth": 1.8, "color": "#000", "opacity": 1},
         "encoding": {
           "x": {"field": "E", "type": "quantitative", "scale": {"domain": [1.75, 5.75], "nice": false, "zero": false}, "axis": null},
           "y": {"field": "sigma", "type": "quantitative", "scale": {"domain": [0, 0.4], "nice": false, "zero": false}, "axis": {"orient": "right", "values": [0, 0.2], "labels": false, "tickSize": {"condition": {"test": "datum.value == 0", "value": -23}, "value": -12}, "title": null}}
         }},
        {"data": {"name": "labels"}, "transform": [{"filter": "datum.panel == 7"}],
         "mark": {"type": "text", "align": "left", "baseline": "middle"},
         "encoding": {
           "x": {"field": "Eq", "type": "quantitative", "scale": {"domain": [1.75, 5.75], "nice": false, "zero": false}, "axis": null},
           "y": {"field": "sigma", "type": "quantitative", "scale": {"domain": [0, 0.4], "nice": false, "zero": false}, "axis": null},
           "text": {"field": "q"}
         }},
        {"data": {"name": "labels"}, "transform": [{"filter": "datum.panel == 7"}],
         "mark": {"type": "text", "align": "right", "baseline": "middle"},
         "encoding": {
           "x": {"field": "Es", "type": "quantitative", "scale": {"domain": [1.75, 5.75], "nice": false, "zero": false}, "axis": null},
           "y": {"field": "sigma", "type": "quantitative", "scale": {"domain": [0, 0.4], "nice": false, "zero": false}, "axis": null},
           "text": {"field": "state"}
         }},
        {"data": {"name": "strokes"}, "transform": [{"filter": "datum.panel == 7"}],
         "mark": {"type": "line", "strokeWidth": 1.8, "color": "#000"},
         "encoding": {
           "x": {"field": "E", "type": "quantitative", "scale": {"domain": [1.75, 5.75], "nice": false, "zero": false}, "axis": null},
           "y": {"field": "sigma", "type": "quantitative", "scale": {"domain": [0, 0.4], "nice": false, "zero": false}, "axis": null},
           "order": {"field": "k"},
           "detail": {"field": "id"}
         }}
      ]
    }
  ]
}
